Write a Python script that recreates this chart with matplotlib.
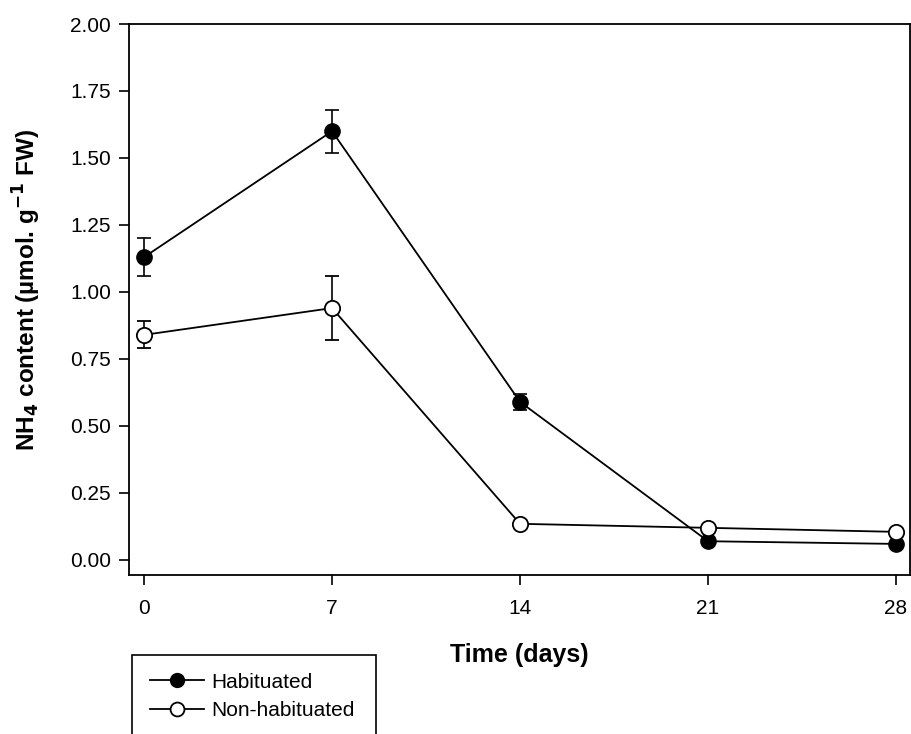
import matplotlib
matplotlib.use("Agg")
import matplotlib.pyplot as plt
from matplotlib.lines import Line2D
from matplotlib.patches import Rectangle

days = [0, 7, 14, 21, 28]
habituated = [1.13, 1.60, 0.59, 0.07, 0.06]
habituated_err = [0.07, 0.08, 0.03, 0.0, 0.0]
non_habituated = [0.84, 0.94, 0.135, 0.12, 0.105]
non_habituated_err = [0.05, 0.12, 0.0, 0.0, 0.0]
x_ticks = [0, 7, 14, 21, 28]
y_ticks = [0.00, 0.25, 0.50, 0.75, 1.00, 1.25, 1.50, 1.75, 2.00]
series_labels = ['Habituated', 'Non-habituated']

plt.rcParams['font.family'] = ['Liberation Sans', 'DejaVu Sans']

W, H = 912, 734
fig = plt.figure(figsize=(W/100, H/100), dpi=100)
ax = fig.add_axes([129/W, 1-575/H, (910-129)/W, (575-24)/H])

ax.errorbar(days, habituated, yerr=habituated_err, color='black', lw=1.3,
            marker='o', ms=11, mfc='black', mec='black', capsize=5,
            elinewidth=1.2, capthick=1.2, zorder=3)
ax.errorbar(days, non_habituated, yerr=non_habituated_err, color='black', lw=1.3,
            marker='o', ms=11, mfc='white', mec='black', mew=1.3, capsize=5,
            elinewidth=1.2, capthick=1.2, zorder=3)

ax.set_xlim(-0.56, 28.52)
ax.set_ylim(-0.056, 2.0)
ax.set_xticks(x_ticks)
ax.set_xticklabels([str(t) for t in x_ticks])
ax.set_yticks(y_ticks)
ax.set_yticklabels([f"{t:.2f}" for t in y_ticks])
ax.tick_params(direction='out', length=7, width=1.2, labelsize=15)
ax.tick_params(axis='x', pad=10)
ax.tick_params(axis='y', pad=6)
for s in ax.spines.values():
    s.set_linewidth(1.3)

ax.set_xlabel('Time (days)', fontsize=18, fontweight='bold', labelpad=18)
ax.set_ylabel('NH$_\\mathbf{4}$ content (µmol. g$^{\\mathbf{-1}}$ FW)', fontsize=17.5,
              fontweight='bold')
ax.yaxis.set_label_coords(-0.110, 0.517)

handles = [
    Line2D([], [], color='black', lw=1.3, marker='o', ms=10, mfc='black', mec='black'),
    Line2D([], [], color='black', lw=1.3, marker='o', ms=10, mfc='white', mec='black', mew=1.3),
]
leg = fig.legend(handles, series_labels, loc='upper left',
                 bbox_to_anchor=(132/W, 1-655/H), frameon=False,
                 fontsize=15, borderpad=0.85, handlelength=2.6,
                 handletextpad=0.35, labelspacing=0.45, borderaxespad=0)

# legend frame (bottom edge runs off the figure, as in the reference)
fig.patches.append(Rectangle((132/W, -0.05), (376-132)/W, (1-655/H)+0.05,
                             transform=fig.transFigure, fill=False,
                             edgecolor='black', lw=1.2, clip_on=False))

fig.savefig('out.png', dpi=100)
